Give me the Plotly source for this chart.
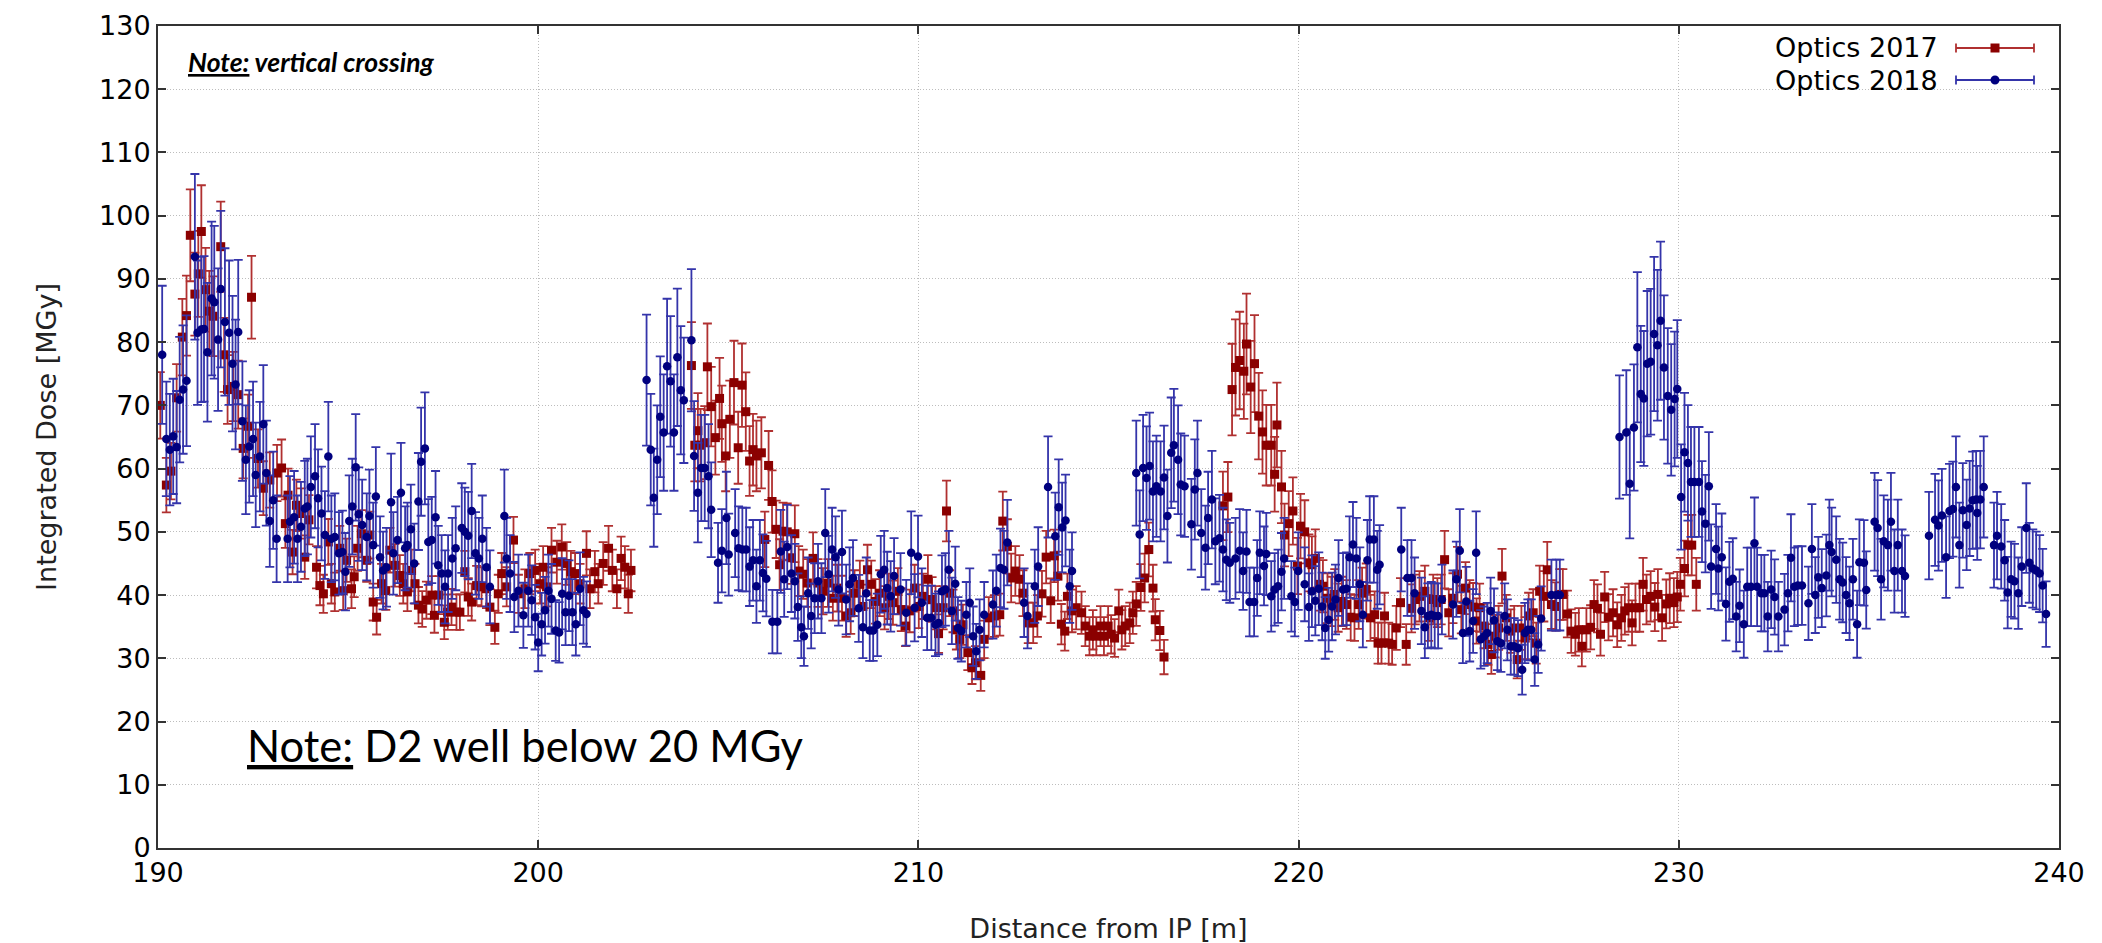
import plotly.graph_objects as go

# ---------------- data ----------------
# Optics 2017 (red squares), three contiguous stretches
r1_x = [190.06,190.22,190.34,190.49,190.64,190.75,190.85,190.97,191.06,191.14,191.25,191.35,191.45,191.65,191.74,191.83,191.98,192.11,192.24,192.37,192.46,192.63,192.77,192.94,193.13,193.25,193.35,193.42,193.54,193.64,193.77,193.86,193.97,194.17,194.26,194.35,194.48,194.56,194.65,194.78,194.87,194.96,195.09,195.16,195.25,195.35,195.49,195.57,195.66,195.75,195.88,195.99,196.1,196.23,196.36,196.45,196.56,196.67,196.76,196.85,196.95,197.06,197.2,197.27,197.39,197.53,197.62,197.72,197.85,197.94,198.07,198.16,198.25,198.38,198.51,198.64,198.73,198.86,198.95,199.04,199.17,199.35,199.48,199.65,199.78,199.92,200.05,200.13,200.22,200.35,200.49,200.62,200.75,200.86,200.97,201.1,201.27,201.36,201.49,201.58,201.71,201.85,201.95,202.07,202.18,202.28,202.37,202.44]
r1_y = [70,57.4,59.6,71.2,80.8,84.2,96.9,87.6,90.8,97.5,88.3,84.9,84.1,95.1,78,72.5,73,71.7,63.2,66.7,87.1,61.6,56.9,58.2,59.3,60.1,51.3,55.8,46.8,54.2,52.9,46,51.9,44.4,41.5,40.2,48.4,41.8,40.5,47.4,40.7,45.5,41,42.9,47.4,49.7,45.5,49.5,38.9,36.5,41.8,40.7,47.1,44.7,43.1,41.8,40.5,43.9,41.8,38.4,37.8,39.2,40,36.8,40,35.7,37.3,38.1,37.3,37.3,43.7,39.7,38.9,41.5,41.3,41,38.1,34.9,40.2,43.4,41.3,48.7,40.2,41,43.4,43.9,41.8,44.4,41.3,47.1,45.2,47.6,45,43.7,43.4,41.8,46.6,41,43.7,41.8,45,47.4,43.9,41,45.8,44.4,40.2,43.9]

r2_x = [204.03,204.12,204.2,204.27,204.38,204.45,204.55,204.66,204.77,204.83,204.93,205.04,205.15,205.26,205.36,205.46,205.56,205.65,205.74,205.87,205.96,206.06,206.15,206.26,206.35,206.44,206.55,206.66,206.75,206.85,206.97,207.08,207.23,207.36,207.49,207.62,207.75,207.87,207.99,208.1,208.22,208.32,208.46,208.54,208.66,208.76,208.87,208.98,209.11,209.22,209.33,209.46,209.55,209.66,209.77,209.9,210.01,210.12,210.25,210.36,210.45,210.53,210.65,210.74,210.82,210.91,211.0,211.09,211.17,211.3,211.41,211.5,211.64,211.73,211.85,212.0,212.14,212.22,212.34,212.44,212.55,212.66,212.75,212.89,213.02,213.13,213.25,213.36,213.48,213.57,213.67,213.76,213.85,213.92,214.04,214.15,214.29,214.39,214.5,214.59,214.68,214.79,214.88,214.99,215.07,215.16,215.27,215.35,215.44,215.56,215.64,215.73,215.85,215.95,216.06,216.17,216.23,216.35,216.46]
r2_y = [76.3,63.7,66,63.7,64.1,76.1,69.8,64.9,71.1,67.1,62,67.8,73.6,63.3,73.2,69,61.2,63,62,62.5,48.8,60.5,54.8,50.4,44.8,50.1,50,45.9,49.7,43.8,43.3,41.9,45.8,41.9,40.6,41.9,39.5,41.1,39.5,36.7,37.2,40.3,41.7,38.2,44,41.7,39,40.3,38,39.8,38.8,40.6,37.7,35.1,37.5,41.1,38.2,39.8,42.5,39.3,38,33.9,38,53.3,40.3,37.5,34.5,33,35.3,30.9,28.5,29.3,27.3,33,36.4,36.7,36.9,51.7,47.7,42.7,43.8,42.5,40.3,35.6,35.6,36.7,40.2,46,39.1,46.2,43,35.4,34.3,39.8,37.5,38,37.2,35.1,33.5,34.5,33.5,35.1,33.5,35.1,33.8,33.2,37.5,34.5,35.1,35.6,37.2,38.6,41.2,42.7,47.2,41.1,36.1,34.4,30.2]

r3_x = [218.01,218.14,218.25,218.34,218.45,218.56,218.63,218.74,218.84,218.95,219.05,219.15,219.28,219.37,219.43,219.55,219.63,219.74,219.85,219.97,220.05,220.16,220.27,220.35,220.44,220.55,220.64,220.76,220.86,220.95,221.04,221.14,221.26,221.37,221.47,221.58,221.67,221.78,221.89,222.0,222.09,222.18,222.26,222.37,222.46,222.57,222.68,222.83,222.97,223.07,223.18,223.32,223.42,223.54,223.65,223.75,223.84,223.95,224.06,224.18,224.28,224.39,224.5,224.59,224.68,224.76,224.88,224.98,225.07,225.17,225.26,225.35,225.46,225.58,225.67,225.75,225.86,225.96,226.05,226.17,226.25,226.34,226.45,226.54,226.65,226.75,226.87,226.95,227.07,227.17,227.28,227.37,227.45,227.57,227.68,227.77,227.86,227.94,228.05,228.15,228.27,228.38,228.49,228.58,228.68,228.77,228.86,228.97,229.06,229.15,229.26,229.37,229.45,229.56,229.67,229.76,229.87,229.96,230.04,230.15,230.24,230.34,230.46]
r3_y = [54.1,55.5,72.5,76,77.1,75.4,79.7,72.9,76.6,68.3,65.8,63.7,63.7,59.1,66.9,57.1,49.5,51.3,53.3,44.6,50.9,50,45.1,44.8,45.8,41.7,41.4,39.5,39,40.1,38,39,38.5,36.5,36.4,38.5,40.3,40.9,36.4,36.9,32.4,32.4,36.7,32.4,32.2,34.8,38.8,32.2,37.9,39.3,39.8,40.6,36.4,39.3,38.8,39.3,45.6,37.2,39.5,43.3,37.7,41.1,38.5,38.1,35.9,38,35.1,32.2,30.6,33.5,34.8,43,36.4,34.3,34.8,29.8,34.8,33.2,36.7,37.2,32.4,40.6,39.8,44,38.5,38.2,40.1,40.1,37,34.3,33.8,34.5,31.9,34.5,34.9,38.5,37.9,33.8,39.7,36.5,37.2,35.3,36.4,37.5,38,35.6,38,38,41.7,39.3,39.8,38.1,40.1,36.4,38.6,39.5,38.8,39.7,41.7,44.2,47.9,47.9,41.7]

# Optics 2018 (blue circles), five contiguous stretches
b1_x = [190.11,190.22,190.31,190.4,190.49,190.57,190.66,190.75,190.97,191.04,191.14,191.21,191.3,191.41,191.48,191.58,191.65,191.76,191.87,191.96,192.04,192.11,192.22,192.31,192.4,192.5,192.57,192.68,192.77,192.85,192.94,193.03,193.12,193.41,193.47,193.58,193.67,193.76,193.86,193.93,194.02,194.13,194.21,194.3,194.39,194.48,194.56,194.65,194.76,194.85,194.93,195.03,195.11,195.2,195.28,195.37,195.49,195.56,195.66,195.73,195.84,195.92,196.01,196.13,196.19,196.3,196.39,196.5,196.56,196.65,196.74,196.85,196.92,197.02,197.11,197.2,197.3,197.37,197.46,197.55,197.63,197.74,197.83,197.99,198.07,198.16,198.25,198.35,198.44,198.53,198.64,198.73,199.11,199.17,199.26,199.37,199.48,199.61,199.74,199.83,199.92,200.0,200.09,200.18,200.27,200.35,200.46,200.55,200.63,200.72,200.81,200.9,200.99,201.1,201.19,201.27]
b1_y = [78,64.7,63,65.1,63.4,70.9,72.5,73.9,93.5,81.5,82,82.1,78.4,86.9,86.3,80.4,88.4,83.2,81.5,76.6,73.3,81.6,67.5,61.4,63.5,64.7,59,61.9,67,59.3,51.7,55,48.9,48.9,51.6,52.3,48.9,50.8,53.7,54,57.1,58.8,55.3,52.9,49.5,61.9,48.9,49.2,46.6,46.8,43.7,51.7,54,60.2,52.8,51.1,49.2,52.5,47.9,55.6,46,43.9,44.4,54.7,46.6,48.7,56.2,47.4,47.9,50.4,45,54.8,61.1,63.2,48.4,48.7,52.3,44.7,43.4,41.3,43.4,45.8,47.4,50.6,50,49.4,53.3,46.6,45.8,48.9,44.4,41.3,52.5,45.8,43.4,39.7,40.7,36.8,40.7,39.2,36.5,32.5,35.4,37.6,40.7,39.4,34.4,34.1,40.2,37.3,39.9,37.3,35.4,41,37.6,37]

b2_x = [202.85,202.96,203.04,203.13,203.21,203.3,203.39,203.48,203.57,203.66,203.75,203.83,204.03,204.1,204.2,204.29,204.38,204.48,204.55,204.73,204.83,204.95,205.01,205.18,205.27,205.37,205.47,205.56,205.65,205.74,205.83,205.91,206.0,206.16,206.29,206.38,206.47,206.55,206.66,206.75,206.83,206.92,206.99,207.1,207.18,207.27,207.36,207.45,207.55,207.64,207.73,207.82,207.9,207.99,208.1,208.19,208.28,208.43,208.54,208.63,208.72,208.81,208.92,209.01,209.1,209.18,209.27,209.36,209.53,209.68,209.81,209.9,209.99,210.09,210.23,210.34,210.45,210.53,210.62,210.71,210.8,210.88,210.97,211.04,211.13,211.26,211.35,211.44,211.52,211.61,211.73,211.96,212.05,212.16,212.25,212.34,212.78,212.87,213.06,213.15,213.41,213.6,213.69,213.78,213.87,213.98,214.04]
b2_y = [74,63,55.4,61.4,68.2,65.7,76.2,73.8,65.7,77.6,72.4,70.8,80.3,62,56.2,60.1,60.1,58.8,53.5,45.1,47,52.2,46.4,49.8,47.4,47.2,47.2,44.5,45.5,41.4,45.5,43.5,42.6,35.8,35.8,46.9,42.5,47.6,43.4,42.2,38.1,34.9,33.5,40.3,36.7,39.5,42.2,39.5,49.8,43.3,47.2,46,40.9,46.8,39.3,41.7,42.7,37.9,34.9,40.3,34.4,34.4,35.3,43.3,44,41.1,39.8,43,40.9,37.2,46.7,38,46.1,38.8,36.4,36.4,35.3,35.6,40.6,40.9,44,37.5,41.8,34.8,34.3,36.9,38.8,33.5,31.1,34.5,36.9,38.5,40.7,44.3,44,48.3,38.8,36.7,41.4,44.5,57.1,49.3,53.9,50.7,51.8,41.4,43.8]

b3_x = [215.73,215.82,215.91,216.0,216.08,216.17,216.26,216.37,216.46,216.55,216.65,216.72,216.83,216.9,217.0,217.18,217.27,217.34,217.44,217.55,217.62,217.72,217.81,217.92,218.01,218.1,218.19,218.34,218.45,218.54,218.63,218.71,218.83,218.91,218.98,219.09,219.15,219.28,219.37,219.46,219.55,219.62,219.81,219.9,219.99,220.16,220.27,220.35,220.44,220.53,220.62,220.7,220.79,220.88,220.97,221.05,221.17,221.26,221.34,221.43,221.52,221.61,221.69,221.81,221.87,221.98,222.07,222.13,222.7,222.86,222.97,223.05,223.23,223.32,223.4,223.49,223.58,223.67,223.77,224.06,224.15,224.24,224.32,224.41,224.5,224.59,224.67,224.79,224.88,224.96,225.05,225.14,225.23,225.32,225.42,225.49,225.58,225.67,225.77,225.88,225.95,226.03,226.12,226.21,226.3,226.38,226.65,226.78,226.87]
b3_y = [59.3,49.6,60.1,58.5,60.4,56.4,57.2,56.4,58.6,52.5,62.5,63.7,61.4,57.5,57.2,51.2,56.7,59.3,49.8,47.5,52.2,55.1,48.5,49,47.2,45.6,45.1,45.8,47,43.8,46.9,38.9,38.9,42.7,46.7,44.6,46.5,39.8,40.9,41.4,43.7,45.8,39.8,38.9,43.8,41.7,38.1,40.6,39.1,41,38.2,34.8,36.1,38.2,39.3,42.7,40.9,41,46,48,45.8,41.7,36.9,45.5,48.8,48.8,44,44.8,47.2,42.7,42.7,40.3,37.5,34.9,36.7,36.9,36.7,36.7,39.3,38.5,42.5,47,34,39,34.3,35.9,46.7,33,33.5,34,37.5,36,32.7,32.4,36.7,34.5,31.9,31.9,31.6,28.2,34,34.5,34.5,29.8,32.2,36.3,40,40,40]

b4_x = [228.44,228.62,228.71,228.82,228.91,229.0,229.08,229.17,229.26,229.35,229.44,229.52,229.61,229.71,229.8,229.89,229.96,230.06,230.15,230.24,230.32,230.41,230.53,230.61,230.7,230.79,230.85,230.98,231.04,231.13,231.24,231.33,231.42,231.51,231.6,231.71,231.8,231.9,231.99,232.06,232.17,232.25,232.34,232.43,232.52,232.62,232.78,232.87,232.95,233.04,233.13,233.24,233.41,233.5,233.59,233.67,233.76,233.88,233.96,234.02,234.14,234.23,234.31,234.4,234.49,234.58,234.69,234.75,234.87,234.93,235.15,235.23,235.32,235.39,235.5,235.58,235.67,235.76,235.87,235.95]
b4_y = [65,65.7,57.6,66.5,79.2,71.8,71.1,76.6,76.9,81.3,79.5,83.4,76,71.5,69.3,71,72.6,55.5,62.6,60.9,57.9,57.9,57.9,53.2,51.3,57.2,44.5,47.3,44.2,46,38.6,42.1,42.6,36.6,38.3,35.4,41.3,41.3,48.2,41.3,40.3,40.3,36.6,40.9,39.7,36.6,37.7,40.3,45.9,41.3,41.5,41.5,38.7,47.3,40,42.8,41.1,43.1,47.9,46.8,45.6,42.5,42,40,38.7,42.5,35.4,45.2,45.1,40.8,51.6,50.6,42.5,48.5,47.9,51.6,43.8,47.9,43.8,43]

b5_x = [236.58,236.74,236.83,236.92,237.03,237.12,237.21,237.29,237.38,237.47,237.57,237.65,237.73,237.82,237.85,237.93,238.02,238.29,238.37,238.48,238.57,238.65,238.74,238.83,238.93,239.02,239.14,239.22,239.31,239.4,239.49,239.57,239.66]
b5_y = [49.4,51.9,51,52.6,46,53.3,53.6,57.1,47.9,53.4,51.1,53.7,55,55.1,53,55.1,57.1,47.9,49.4,47.7,45.5,40.4,42.5,42.2,40.3,44.5,50.6,45.1,44.2,43.9,43.4,41.5,37]

# relative uncertainty (percent) per stretch
err_2017 = [7.5, 9, 10]
err_2018 = [14, 14, 14, 15, 14]

series_labels = ["Optics 2017", "Optics 2018"]
x_ticks = [190, 200, 210, 220, 230, 240]
y_ticks = list(range(0, 131, 10))

# ---------------- styling ----------------
RED_M, RED_E = "#8b0000", "#b03030"
BLUE_M, BLUE_E = "#00007f", "#3434aa"
FONT = "DejaVu Sans"

fig = go.Figure()

for (xs, ys), pct in zip([(r1_x, r1_y), (r2_x, r2_y), (r3_x, r3_y)], err_2017):
    fig.add_trace(go.Scatter(
        x=xs, y=ys, mode="markers", name=series_labels[0], showlegend=False,
        marker=dict(symbol="square", size=9, color=RED_M, line=dict(width=0)),
        error_y=dict(type="percent", value=pct, color=RED_E, thickness=1.8, width=4.5),
    ))

for (xs, ys), pct in zip([(b1_x, b1_y), (b2_x, b2_y), (b3_x, b3_y), (b4_x, b4_y), (b5_x, b5_y)], err_2018):
    fig.add_trace(go.Scatter(
        x=xs, y=ys, mode="markers", name=series_labels[1], showlegend=False,
        marker=dict(symbol="circle", size=8.5, color=BLUE_M, line=dict(width=0)),
        error_y=dict(type="percent", value=pct, color=BLUE_E, thickness=1.8, width=4.5),
    ))

# plot-area pixel geometry
L, R, T, B = 150, 2051, 18, 840
W, H = R - L, B - T
def px(xp):
    return (xp - L) / W
def py(yp):
    return (B - yp) / H

shapes = []
annotations = []
# custom legend (text + errorbar symbol)
for i, (lab, mcol, ecol, sym) in enumerate([(series_labels[0], RED_M, RED_E, "square"),
                                            (series_labels[1], BLUE_M, BLUE_E, "circle")]):
    yc = 40 + 32 * i
    annotations.append(dict(text=lab, x=px(1932), y=py(yc), xref="paper", yref="paper",
                            xanchor="right", yanchor="middle", showarrow=False,
                            font=dict(family=FONT, size=27, color="black")))
    shapes.append(dict(type="line", xref="paper", yref="paper", x0=px(1948), x1=px(2026),
                       y0=py(yc), y1=py(yc), line=dict(color=ecol, width=1.8)))
    for xe in (1948, 2026):
        shapes.append(dict(type="line", xref="paper", yref="paper", x0=px(xe), x1=px(xe),
                           y0=py(yc - 4.5), y1=py(yc + 4.5), line=dict(color=ecol, width=1.8)))
    shapes.append(dict(type="rect" if sym == "square" else "circle", xref="paper", yref="paper",
                       x0=px(1982.5), x1=px(1991.5), y0=py(yc + 4.5), y1=py(yc - 4.5),
                       fillcolor=mcol, line=dict(width=0)))

annotations.append(dict(text="<b><i><u>Note:</u> vertical crossing</i></b>",
                        x=px(178), y=py(54), xref="paper", yref="paper",
                        xanchor="left", yanchor="middle", showarrow=False,
                        font=dict(family="Lato, Open Sans", size=26.5, color="black")))
annotations.append(dict(text="<u>Note:</u> D2 well below 20 MGy",
                        x=px(237), y=py(737), xref="paper", yref="paper",
                        xanchor="left", yanchor="middle", showarrow=False,
                        font=dict(family="Lato, Open Sans", size=43.5, color="black")))

axis_common = dict(
    showline=True, linecolor="#333333", linewidth=2, mirror="ticks",
    ticks="inside", ticklen=8, tickwidth=1.5, tickcolor="#333333",
    showgrid=True, gridcolor="#bdbdbd", griddash="1px,2px", gridwidth=1,
    zeroline=False, automargin=False,
    tickfont=dict(family=FONT, size=27, color="black"),
)

fig.update_layout(
    width=2102, height=943,
    margin=dict(l=L, r=2102 - R, t=T, b=943 - B, autoexpand=False),
    paper_bgcolor="white", plot_bgcolor="white",
    showlegend=False,
    xaxis=dict(range=[190, 240], tickvals=x_ticks, ticktext=[str(v) for v in x_ticks],
               title=dict(text="Distance from IP [m]", font=dict(family=FONT, size=27, color="#222222"),
                          standoff=32),
               **axis_common),
    yaxis=dict(range=[0, 130], tickvals=y_ticks, ticktext=[str(v) for v in y_ticks],
               title=dict(text="Integrated Dose [MGy]", font=dict(family=FONT, size=27, color="#222222"),
                          standoff=35),
               **axis_common),
    shapes=shapes, annotations=annotations,
)

fig.write_html("out.html")
